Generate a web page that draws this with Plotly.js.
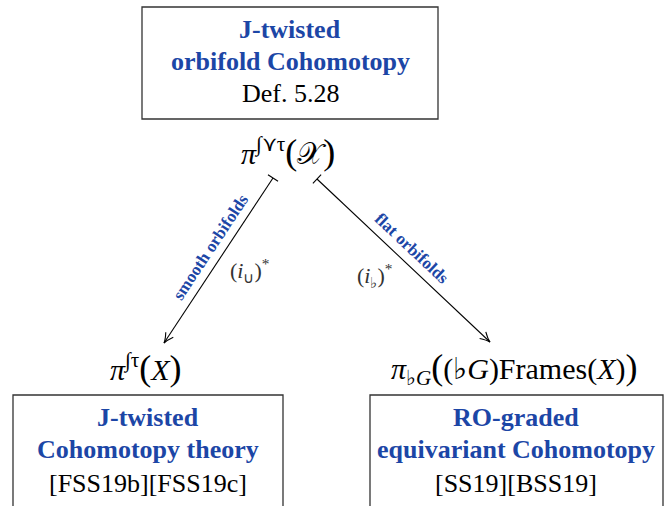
<!DOCTYPE html>
<html>
<head>
<meta charset="utf-8">
<script src="https://cdn.plot.ly/plotly-3.0.1.min.js"></script>
<style>html,body{margin:0;padding:0;background:#fff;}#chart{width:671px;height:506px;}</style>
</head>
<body>
<div id="chart"></div>
<script>
// ---- content ----
const boxTitleLine1 = ["J-twisted", "J-twisted", "RO-graded"];
const boxTitleLine2 = ["orbifold Cohomotopy", "Cohomotopy theory", "equivariant Cohomotopy"];
const boxRefs = ["Def. 5.28", "[FSS19b][FSS19c]", "[SS19][BSS19]"];
const BIGP = s => "<span style='font-size:36px'>" + s + "</span>";
const nodeFormulas = [
  "<i>π</i><sup>∫⋎τ</sup>" + BIGP("(") + "𝒳" + BIGP(")"),
  "<i>π</i><sup>∫τ</sup>" + BIGP("(") + "<i>X</i>" + BIGP(")"),
  "<i>π</i><sub>♭<i>G</i></sub>" + BIGP("(") + "(♭<i>G</i>)Frames(<i>X</i>)" + BIGP(")")
];
const arrowNames = ["smooth orbifolds", "flat orbifolds"];
const arrowMaps = ["(<i>i</i><sub>∪</sub>)<sup>*</sup>", "(<i>i</i><sub>♭</sub>)<sup>*</sup>"];

// ---- layout geometry (pixel-like coordinates) ----
const boxRects = [[142, 7, 438, 119], [13, 395, 283, 530], [370, 395, 663, 530]];
const boxCenterX = [290, 148, 516];
const line1Y = [29, 417, 417];
const line2Y = [61, 449, 449];
const refY = [93, 483, 483];
const formulaPos = [[288, 152], [146, 368], [514, 368]];
const arrowStart = [[273, 178], [317, 179]];
const arrowEnd = [[164, 343], [490, 342]];
const namePos = [[210, 247], [412, 248]];
const mapPos = [[249, 270], [374, 275]];

const BLUE = "#1c46a6";
const SERIF = "'Liberation Serif', 'Times New Roman', serif";

const shapes = [];
const annotations = [];

boxRects.forEach(r => {
  shapes.push({type: "rect", xref: "x", yref: "y", x0: r[0], y0: r[1], x1: r[2], y1: r[3],
    line: {color: "#333", width: 1.3}, fillcolor: "rgba(0,0,0,0)"});
});

for (let i = 0; i < 3; i++) {
  annotations.push({x: boxCenterX[i], y: line1Y[i], text: "<b>" + boxTitleLine1[i] + "</b>",
    font: {family: SERIF, size: 26, color: BLUE}});
  annotations.push({x: boxCenterX[i], y: line2Y[i], text: "<b>" + boxTitleLine2[i] + "</b>",
    font: {family: SERIF, size: 26, color: BLUE}});
  annotations.push({x: boxCenterX[i], y: refY[i], text: boxRefs[i],
    font: {family: SERIF, size: 26, color: "#000"}});
  annotations.push({x: formulaPos[i][0], y: formulaPos[i][1], text: nodeFormulas[i],
    font: {family: SERIF, size: 30, color: "#000"}});
}

for (let k = 0; k < 2; k++) {
  const [sx, sy] = arrowStart[k];
  const [ex, ey] = arrowEnd[k];
  const dx = ex - sx, dy = ey - sy, L = Math.hypot(dx, dy);
  const ux = dx / L, uy = dy / L, nx = -uy, ny = ux;
  shapes.push({type: "line", xref: "x", yref: "y", x0: sx, y0: sy, x1: ex, y1: ey,
    line: {color: "#000", width: 1.1}});
  const b = 6;
  shapes.push({type: "line", xref: "x", yref: "y", x0: sx - b * nx, y0: sy - b * ny, x1: sx + b * nx, y1: sy + b * ny,
    line: {color: "#000", width: 1.1}});
  const back = 10, half = 4.5;
  const ax = ex - back * ux + half * nx, ay = ey - back * uy + half * ny;
  const bx = ex - back * ux - half * nx, by = ey - back * uy - half * ny;
  const c1x = ex - 4 * ux + 0.8 * nx, c1y = ey - 4 * uy + 0.8 * ny;
  const c2x = ex - 4 * ux - 0.8 * nx, c2y = ey - 4 * uy - 0.8 * ny;
  shapes.push({type: "path", xref: "x", yref: "y",
    path: `M${ax},${ay} Q${c1x},${c1y} ${ex},${ey} Q${c2x},${c2y} ${bx},${by}`,
    line: {color: "#000", width: 1.1}});
  const ang = Math.atan2(dy, dx) * 180 / Math.PI;
  const textAng = k === 0 ? ang - 180 : ang;
  annotations.push({x: namePos[k][0], y: namePos[k][1], text: "<b>" + arrowNames[k] + "</b>",
    textangle: textAng, font: {family: SERIF, size: 17, color: BLUE}});
  annotations.push({x: mapPos[k][0], y: mapPos[k][1], text: arrowMaps[k],
    font: {family: SERIF, size: 22, color: "#333"}});
}

annotations.forEach(a => { a.xref = "x"; a.yref = "y"; a.showarrow = false; a.xanchor = "center"; a.yanchor = "middle"; });

const layout = {
  width: 671, height: 506,
  margin: {l: 0, r: 0, t: 0, b: 0},
  paper_bgcolor: "#fff", plot_bgcolor: "#fff",
  xaxis: {range: [0, 671], visible: false, fixedrange: true},
  yaxis: {range: [506, 0], visible: false, fixedrange: true},
  showlegend: false,
  shapes: shapes,
  annotations: annotations
};

Plotly.newPlot("chart", [], layout, {displayModeBar: false, staticPlot: true});
</script>
</body>
</html>
